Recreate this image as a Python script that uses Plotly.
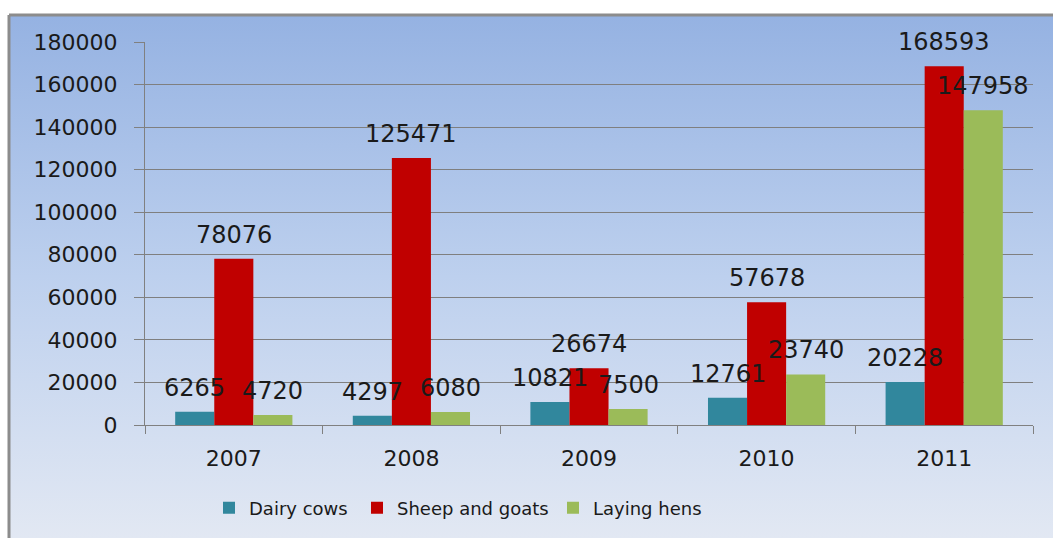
import base64
import plotly.graph_objects as go

years = ["2007", "2008", "2009", "2010", "2011"]
dairy_cows = [6265, 4297, 10821, 12761, 20228]
sheep_goats = [78076, 125471, 26674, 57678, 168593]
laying_hens = [4720, 6080, 7500, 23740, 147958]

series = [
    ("Dairy cows", dairy_cows, "#31879d"),
    ("Sheep and goats", sheep_goats, "#c00000"),
    ("Laying hens", laying_hens, "#9bbb59"),
]

W, H = 1053, 538
L, R, T, B = 145, 20, 42, 113
pw, ph = W - L - R, H - T - B
BARGAP = 0.34


def px_x(p):
    return (p - L) / pw


def px_y(p):
    return (H - B - p) / ph


# vertical gradient used as the chart background
svg = (
    '<svg xmlns="http://www.w3.org/2000/svg" width="100" height="100" preserveAspectRatio="none">'
    '<defs><linearGradient id="g" x1="0" y1="0" x2="0" y2="1">'
    '<stop offset="0" stop-color="#95b2e2"/>'
    '<stop offset="0.5" stop-color="#bdd0ee"/>'
    '<stop offset="1" stop-color="#e2e8f3"/>'
    '</linearGradient></defs>'
    '<rect width="100" height="100" fill="url(#g)"/></svg>'
)
bg_src = "data:image/svg+xml;base64," + base64.b64encode(svg.encode()).decode()

# one legend box per series so the entries can be spaced freely
legend_left_px = [209, 357, 553]
legend_names = ["legend2", "legend3", "legend4"]

fig = go.Figure()
annotations = []
n = len(series)
bar_w = (1 - BARGAP) / n
for k, (name, vals, color) in enumerate(series):
    fig.add_trace(go.Bar(
        name=name, x=years, y=vals,
        marker=dict(color=color, line=dict(width=0)),
        legend=legend_names[k],
        showlegend=True,
    ))
    # value labels, drawn above all bars
    offset = (k - (n - 1) / 2) * bar_w
    for i, v in enumerate(vals):
        annotations.append(dict(
            x=i + offset, y=v, xref="x", yref="y",
            text=str(v), showarrow=False,
            yanchor="middle", yshift=24,
            font=dict(family="DejaVu Sans", size=24, color="#1a1a1a"),
        ))

x0, x1 = px_x(9), px_x(W)
y0, y1 = px_y(H), px_y(15)

legend_style = dict(
    orientation="h", y=px_y(508), xanchor="left", yanchor="middle",
    font=dict(family="DejaVu Sans", size=18, color="#1a1a1a"),
    bgcolor="rgba(0,0,0,0)", itemwidth=30,
)

fig.update_layout(
    width=W, height=H,
    margin=dict(l=L, r=R, t=T, b=B),
    paper_bgcolor="white",
    plot_bgcolor="rgba(0,0,0,0)",
    barmode="group",
    bargap=BARGAP,
    bargroupgap=0,
    font=dict(family="DejaVu Sans", size=22, color="#1a1a1a"),
    annotations=annotations,
    images=[dict(
        source=bg_src, xref="paper", yref="paper",
        x=x0, y=y1, sizex=x1 - x0, sizey=y1 - y0,
        xanchor="left", yanchor="top", sizing="stretch", layer="below",
    )],
    shapes=[
        dict(type="line", xref="paper", yref="paper", x0=x0, x1=x1, y0=y1, y1=y1,
             line=dict(color="#8c8c8c", width=3)),
        dict(type="line", xref="paper", yref="paper", x0=x0, x1=x0, y0=y0, y1=y1,
             line=dict(color="#8c8c8c", width=3)),
    ],
    legend2=dict(x=px_x(legend_left_px[0]), **legend_style),
    legend3=dict(x=px_x(legend_left_px[1]), **legend_style),
    legend4=dict(x=px_x(legend_left_px[2]), **legend_style),
    xaxis=dict(
        showline=True, linecolor="#808080", linewidth=1,
        ticks="outside", tickson="boundaries", ticklen=8, tickcolor="#808080",
        tickfont=dict(size=22), showgrid=False, ticklabelstandoff=14,
    ),
    yaxis=dict(
        range=[0, 180000], dtick=20000, tickformat="d",
        showline=True, linecolor="#808080", linewidth=1,
        ticks="outside", ticklen=10, tickcolor="#808080",
        showgrid=True, gridcolor="#7f7f7f", gridwidth=1,
        zeroline=False, tickfont=dict(size=22), ticklabelstandoff=12,
    ),
)

fig.write_html("out.html")
